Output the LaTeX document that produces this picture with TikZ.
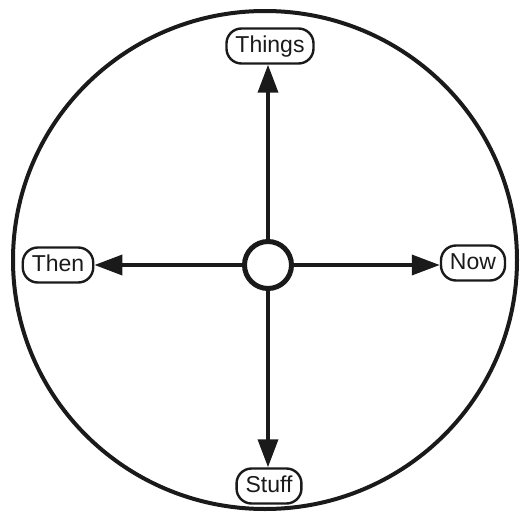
\documentclass[tikz,border=0pt]{standalone}
\usepackage{fontspec}
\setmainfont{Liberation Sans}
\usetikzlibrary{arrows.meta, positioning}
\definecolor{ink}{HTML}{1A1A1A}

\begin{document}
\begin{tikzpicture}[x=1pt, y=-1pt,
  pill/.style={draw=ink, line width=2.4pt, rounded corners=15pt,
    minimum height=35pt, inner xsep=9pt, text height=17pt, text depth=4pt,
    font=\fontsize{23}{26}\selectfont, text=ink},
  spoke/.style={ink, line width=3.6pt, -{Triangle[length=28pt, width=20pt]}}]
  \useasboundingbox (0,0) rectangle (520,514);
  \draw[ink, line width=4pt] (265,260) ellipse (252 and 249);
  \node[draw=ink, circle, line width=5pt, minimum size=47pt, inner sep=0pt] (hub) at (268,265) {};
  % Labels
  \node[pill] (things) at (270,46) {Things};
  \node[pill] (then) at (58,265) {Then};
  \node[pill] (now) at (473,263) {Now};
  \node[pill] (stuff) at (269,486) {Stuff};
  % Arrows
  \draw[spoke] (hub.north) -- (hub.north |- things.south);
  \draw[spoke] (hub.west) -- (then.east |- hub.west);
  \draw[spoke] (hub.east) -- (now.west |- hub.east);
  \draw[spoke] (hub.south) -- (hub.south |- stuff.north);
\end{tikzpicture}
\end{document}
